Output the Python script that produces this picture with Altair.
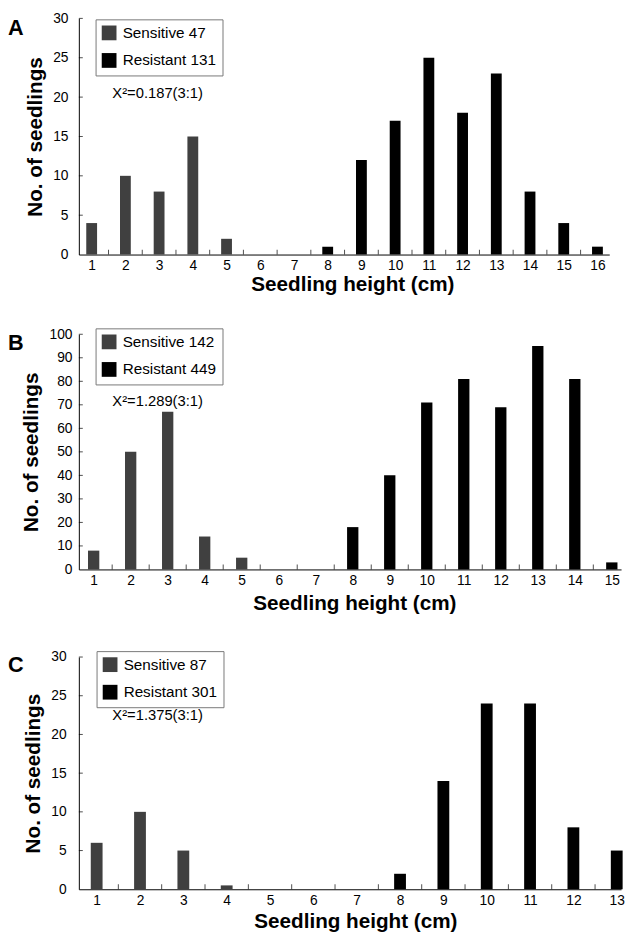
import altair as alt
import pandas as pd

FONT = "Liberation Sans"
SENS_COLOR = "#404040"
RES_COLOR = "#000000"

# ---------------- Panel A ----------------
a_sens_height = [1, 2, 3, 4, 5]
a_sens_count = [4, 10, 8, 15, 2]
a_res_height = [8, 9, 10, 11, 12, 13, 14, 15, 16]
a_res_count = [1, 12, 17, 25, 18, 23, 8, 4, 1]
a_legend = ["Sensitive 47", "Resistant 131"]
a_chi = "X²=0.187(3:1)"
a_xticks = list(range(1, 17))
a_yticks = [0, 5, 10, 15, 20, 25, 30]

# ---------------- Panel B ----------------
b_sens_height = [1, 2, 3, 4, 5]
b_sens_count = [8, 50, 67, 14, 5]
b_res_height = [8, 9, 10, 11, 12, 13, 14, 15]
b_res_count = [18, 40, 71, 81, 69, 95, 81, 3]
b_legend = ["Sensitive 142", "Resistant 449"]
b_chi = "X²=1.289(3:1)"
b_xticks = list(range(1, 16))
b_yticks = [0, 10, 20, 30, 40, 50, 60, 70, 80, 90, 100]

# ---------------- Panel C ----------------
c_sens_height = [1, 2, 3, 4]
c_sens_count = [6, 10, 5, 0.5]
c_res_height = [8, 9, 10, 11, 12, 13]
c_res_count = [2, 14, 24, 24, 8, 5]
c_legend = ["Sensitive 87", "Resistant 301"]
c_chi = "X²=1.375(3:1)"
c_xticks = list(range(1, 14))
c_yticks = [0, 5, 10, 15, 20, 25, 30]


def panel(letter, sh, sc, rh, rc, legend, chi, xticks, yticks,
          xdomain, width, height, bw, leg_xy, chi_xy, let_xy,
          y_lab_pad, y_title_pad, x_title_pad, x_title_x):
    df = pd.DataFrame({
        "height": sh + rh,
        "count": sc + rc,
        "group": [legend[0]] * len(sh) + [legend[1]] * len(rh),
    })
    xscale = alt.Scale(domain=xdomain, nice=False, zero=False, padding=0)
    yscale = alt.Scale(domain=[yticks[0], yticks[-1]], nice=False, padding=0)
    xaxis = alt.Axis(values=xticks, format="d", ticks=False, grid=False,
                     labelOverlap=False, labelPadding=4, labelFontSize=14,
                     title="Seedling height (cm)", titleFontSize=21,
                     titleFontWeight="bold", titlePadding=x_title_pad,
                     titleX=x_title_x)
    yaxis = alt.Axis(values=yticks, ticks=False, grid=False,
                     labelOverlap=False, labelPadding=y_lab_pad,
                     labelFontSize=14,
                     title="No. of seedlings", titleFontSize=21,
                     titleFontWeight="bold", titlePadding=y_title_pad)

    bars = alt.Chart(df).mark_bar(size=bw, orient="vertical").encode(
        x=alt.X("height:Q", scale=xscale, axis=xaxis),
        y=alt.Y("count:Q", scale=yscale, axis=yaxis),
        color=alt.Color("group:N",
                        scale=alt.Scale(domain=legend, range=[SENS_COLOR, RES_COLOR]),
                        legend=alt.Legend(orient="none", legendX=leg_xy[0],
                                          legendY=leg_xy[1], title=None,
                                          direction="vertical",
                                          symbolType="square", symbolSize=225,
                                          symbolStrokeWidth=0, labelFontSize=15.5,
                                          labelOffset=6, rowPadding=11, padding=6,
                                          strokeColor="#777777", fillColor="white",
                                          labelFont=FONT, labelColor="black")),
    )

    # small inward ticks between categories on the x axis
    xt = pd.DataFrame({"height": [v + 0.5 for v in xticks[:-1]]})
    xtick_marks = alt.Chart(xt).mark_tick(orient="vertical", size=5, thickness=1,
                                           color="black", yOffset=-2.5).encode(
        x=alt.X("height:Q", scale=xscale, axis=xaxis),
        y=alt.datum(0, scale=yscale, axis=yaxis),
    )
    # small inward ticks on the y axis
    yt = pd.DataFrame({"count": yticks[1:]})
    ytick_marks = alt.Chart(yt).mark_tick(orient="horizontal", size=4, thickness=1,
                                           color="black").encode(
        y=alt.Y("count:Q", scale=yscale, axis=yaxis), x=alt.value(2)
    )

    chi_text = alt.Chart(pd.DataFrame({"t": [chi]})).mark_text(
        align="left", baseline="middle", fontSize=15, font=FONT, color="black"
    ).encode(x=alt.value(chi_xy[0]), y=alt.value(chi_xy[1]), text="t:N")

    letter_text = alt.Chart(pd.DataFrame({"t": [letter]})).mark_text(
        align="left", baseline="middle", fontSize=22, fontWeight="bold",
        font=FONT, color="black"
    ).encode(x=alt.value(let_xy[0]), y=alt.value(let_xy[1]), text="t:N")

    return alt.layer(bars, xtick_marks, ytick_marks, chi_text, letter_text).properties(
        width=width, height=height
    )


A = panel("A", a_sens_height, a_sens_count, a_res_height, a_res_count, a_legend, a_chi,
          a_xticks, a_yticks, xdomain=[0.62, 16.35], width=539, height=240, bw=11,
          leg_xy=(17, 1), chi_xy=(34, 76), let_xy=(-72, 10),
          y_lab_pad=11, y_title_pad=7, x_title_pad=2, x_title_x=278)

B = panel("B", b_sens_height, b_sens_count, b_res_height, b_res_count, b_legend, b_chi,
          b_xticks, b_yticks, xdomain=[0.6, 15.25], width=551, height=239, bw=11.5,
          leg_xy=(17, -6), chi_xy=(34, 68), let_xy=(-72, 9),
          y_lab_pad=7, y_title_pad=8, x_title_pad=6, x_title_x=280)

C = panel("C", c_sens_height, c_sens_count, c_res_height, c_res_count, c_legend, c_chi,
          c_xticks, c_yticks, xdomain=[0.589, 13.1], width=551, height=236, bw=12,
          leg_xy=(18, -6), chi_xy=(34, 59), let_xy=(-72, 8),
          y_lab_pad=13, y_title_pad=7, x_title_pad=4, x_title_x=281)

top = alt.vconcat(A, B, spacing=33).resolve_scale(color="independent").resolve_legend(color="independent")
chart = alt.vconcat(top, C, spacing=37).resolve_scale(color="independent").resolve_legend(
    color="independent"
).properties(
    padding={"left": 0, "top": -4, "right": 0, "bottom": 0}
).configure_view(stroke=None).configure_axis(
    domainColor="black", domainWidth=1, labelColor="black", titleColor="black",
    labelFont=FONT, titleFont=FONT
).configure_text(font=FONT)

chart.save("out.html", embed_options={"renderer": "svg", "actions": False})
